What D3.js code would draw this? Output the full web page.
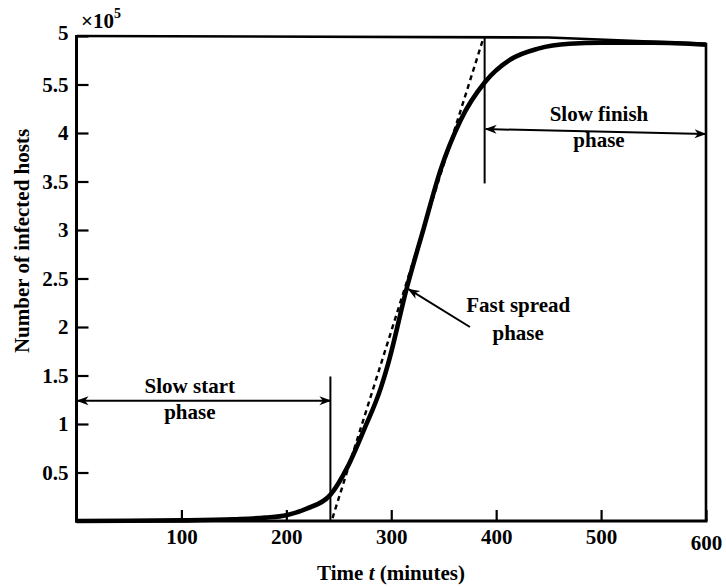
<!DOCTYPE html>
<html><head><meta charset="utf-8">
<script src="https://cdn.jsdelivr.net/npm/d3@7"></script>
<style>
body{margin:0;background:#fff}
text{font-family:"Liberation Serif","Times New Roman",serif;font-weight:bold;fill:#000}
</style>
</head><body>
<svg id="c" width="726" height="587"></svg>
<script>
// ---- data (y in units of 10^5 hosts) ----
const timeMinutes   = [0, 50, 100, 150, 180, 200, 220, 242, 258, 274, 290, 297, 315, 331, 347, 366, 389, 414, 440, 470, 500, 550, 600];
const infectedHosts = [0, 0.002, 0.006, 0.018, 0.035, 0.06, 0.13, 0.27, 0.55, 0.94, 1.37, 1.62, 2.41, 3.02, 3.62, 4.13, 4.52, 4.76, 4.87, 4.92, 4.93, 4.93, 4.91];
const tangentTime   = [244, 387];
const tangentHosts  = [0.03, 4.95];
const xTickValues = [100, 200, 300, 400, 500, 600];
const xTickLabels = ["100", "200", "300", "400", "500", "600"];
const yTickValues = [0.5, 1, 1.5, 2, 2.5, 3, 3.5, 4, 4.5, 5];
const yTickLabels = ["0.5", "1", "1.5", "2", "2.5", "3", "3.5", "4", "5.5", "5"];
const phaseBoundaryTimes = [242, 389];
const phaseBoundaryFrom  = [0, 5];
const phaseBoundaryTo    = [1.49, 3.48];
const phaseNames = [["Slow start", "phase"], ["Fast spread", "phase"], ["Slow finish", "phase"]];

const FONT = '"Liberation Serif","Times New Roman",serif';
const svg = d3.select("#c");
const x = d3.scaleLinear().domain([0, 600]).range([76.5, 706]);
const y = d3.scaleLinear().domain([0, 5]).range([521, 36]);

// markers
const defs = svg.append("defs");
defs.append("marker").attr("id", "ah").attr("viewBox", "0 -5 12 10")
  .attr("refX", 11).attr("refY", 0).attr("markerWidth", 12).attr("markerHeight", 10)
  .attr("markerUnits", "userSpaceOnUse").attr("orient", "auto-start-reverse")
  .append("path").attr("d", "M0,-4.5 L12,0 L0,4.5 L3.5,0 Z").attr("fill", "#000");

// axes
const xAxis = d3.axisBottom(x).tickValues(xTickValues)
  .tickFormat((d, i) => xTickLabels[i]).tickSizeInner(-11).tickSizeOuter(0).tickPadding(8);
const gx = svg.append("g").attr("transform", `translate(0,${y(0)})`).call(xAxis);
const yAxis = d3.axisLeft(y).tickValues(yTickValues)
  .tickFormat((d, i) => yTickLabels[i]).tickSizeInner(-12).tickSizeOuter(0).tickPadding(8);
const gy = svg.append("g").attr("transform", `translate(${x(0)},0)`).call(yAxis);
[gx, gy].forEach(g => {
  g.attr("font-family", null).attr("font-size", null);
  g.select(".domain").remove();
  g.selectAll(".tick line").attr("stroke", "#000").attr("stroke-width", 2.2);
  g.selectAll(".tick text").style("font-size", "21px").style("font-family", FONT)
    .style("font-weight", "bold").attr("fill", "#000");
});
gx.selectAll(".tick").filter(d => d === 600).select("text").attr("dy", "1.0em");
gy.selectAll(".tick").filter(d => d === 5).select("text").attr("dy", "0.15em");

// frame
const frame = svg.append("g").attr("stroke", "#000").attr("fill", "none");
frame.append("line").attr("x1", x(0)).attr("x2", x(0)).attr("y1", y(5) - 1).attr("y2", y(0) + 1.5).attr("stroke-width", 3);
frame.append("line").attr("x1", x(0) - 1.5).attr("x2", x(600) + 1.5).attr("y1", y(0)).attr("y2", y(0)).attr("stroke-width", 3.2);
frame.append("path").attr("d", d3.line()([[x(0), y(5)], [x(450), y(4.985)], [x(600), y(4.92)]])).attr("stroke-width", 2.6);
frame.append("line").attr("x1", x(600)).attr("x2", x(600)).attr("y1", y(4.92) - 1).attr("y2", y(0)).attr("stroke-width", 2.6);

// tangent (dashed)
svg.append("path")
  .attr("d", d3.line().x((d, i) => x(tangentTime[i])).y((d, i) => y(tangentHosts[i]))(tangentTime))
  .attr("fill", "none").attr("stroke", "#000").attr("stroke-width", 2.4).attr("stroke-dasharray", "5,4");

// curve
svg.append("path")
  .attr("d", d3.line().curve(d3.curveMonotoneX).x((d, i) => x(timeMinutes[i])).y((d, i) => y(infectedHosts[i]))(timeMinutes))
  .attr("fill", "none").attr("stroke", "#000").attr("stroke-width", 4.6).attr("stroke-linejoin", "round");

// phase boundaries
phaseBoundaryTimes.forEach((t, i) => {
  svg.append("line").attr("x1", x(t)).attr("x2", x(t))
    .attr("y1", y(phaseBoundaryFrom[i])).attr("y2", y(phaseBoundaryTo[i]))
    .attr("stroke", "#000").attr("stroke-width", 2);
});

// double arrows
function dblArrow(t1, v1, t2, v2) {
  svg.append("line").attr("x1", x(t1)).attr("y1", y(v1)).attr("x2", x(t2)).attr("y2", y(v2))
    .attr("stroke", "#000").attr("stroke-width", 2)
    .attr("marker-start", "url(#ah)").attr("marker-end", "url(#ah)");
}
dblArrow(1, 1.24, 242, 1.24);
dblArrow(390, 4.04, 599.5, 3.99);
// fast spread arrow
svg.append("line").attr("x1", x(375)).attr("y1", y(2.0)).attr("x2", x(316.5)).attr("y2", y(2.39))
  .attr("stroke", "#000").attr("stroke-width", 2).attr("marker-end", "url(#ah)");

// phase labels
const labelPos = [[108, 1.32, 1.05], [421, 2.155, 1.87], [498, 4.12, 3.86]];
phaseNames.forEach((lines, i) => {
  const [t, v1, v2] = labelPos[i];
  svg.append("text").attr("x", x(t)).attr("y", y(v1)).attr("text-anchor", "middle").style("font-size", "21px").text(lines[0]);
  svg.append("text").attr("x", x(t)).attr("y", y(v2)).attr("text-anchor", "middle").style("font-size", "21px").text(lines[1]);
});

// multiplier
const mult = svg.append("text").attr("x", 81).attr("y", 28).style("font-size", "21px");
mult.append("tspan").text("×10");
mult.append("tspan").attr("dy", -10).style("font-size", "14px").text("5");

// axis titles
const xt = svg.append("text").attr("x", 391).attr("y", 580).attr("text-anchor", "middle").style("font-size", "21px");
xt.append("tspan").text("Time ");
xt.append("tspan").style("font-style", "italic").text("t");
xt.append("tspan").text(" (minutes)");
svg.append("text").attr("transform", "translate(29,241) rotate(-90)").attr("text-anchor", "middle")
  .style("font-size", "21px").text("Number of infected hosts");
</script>
</body></html>
